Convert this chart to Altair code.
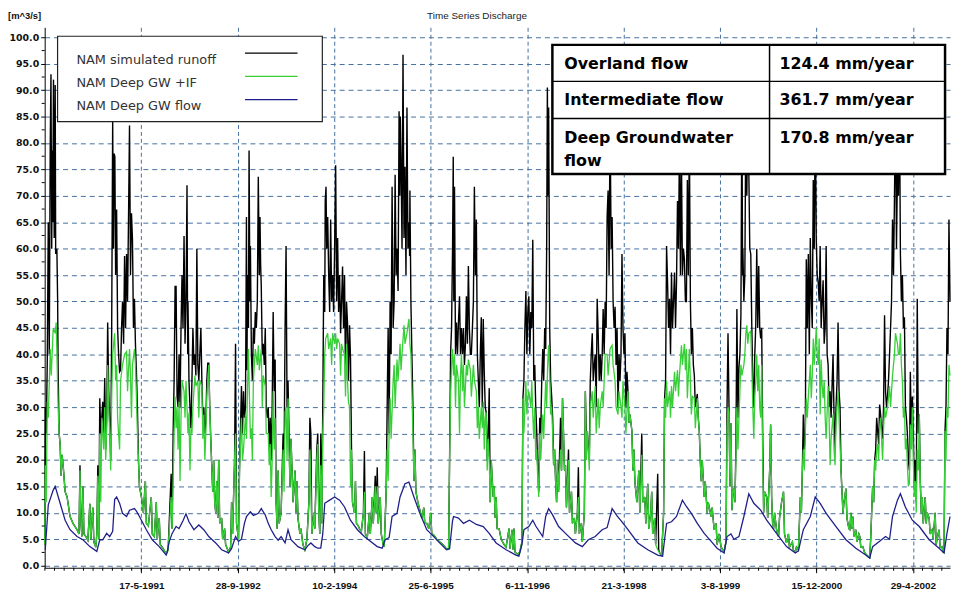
import altair as alt
import pandas as pd

# ---------------- text / categories ----------------
TITLE = "Time Series Discharge"
UNIT = "[m^3/s]"
SERIES_NAMES = ["NAM simulated runoff", "NAM Deep GW +IF", "NAM Deep GW flow"]
SERIES_COLORS = ["#000000", "#36cf36", "#1f1f8a"]

TICK_DATES = ["1991-05-17", "1992-09-28", "1994-02-10", "1995-06-25", "1996-11-06",
              "1998-03-21", "1999-08-03", "2000-12-15", "2002-04-29"]
TICK_LABELS = ["17-5-1991", "28-9-1992", "10-2-1994", "25-6-1995", "6-11-1996",
               "21-3-1998", "3-8-1999", "15-12-2000", "29-4-2002"]
Y_TICKS = [0, 5, 10, 15, 20, 25, 30, 35, 40, 45, 50, 55, 60, 65, 70, 75, 80, 85, 90, 95, 100]

TABLE_NAMES = ["Overland flow", "Intermediate flow", "Deep Groundwater\nflow"]
TABLE_VALUES = ["124.4 mm/year", "361.7 mm/year", "170.8 mm/year"]

# ---------------- series (decimal year, m^3/s) ----------------
RUNOFF = [
    (1990.001, 4), (1990.008, 30), (1990.022, 25), (1990.037, 39), (1990.051, 65), (1990.065, 40), (1990.079, 80), (1990.089, 93), (1990.100, 60), (1990.107, 78.6), (1990.114, 65), (1990.125, 92), (1990.135, 62), (1990.149, 91), (1990.156, 59), (1990.173, 60), (1990.184, 50), (1990.191, 36.7),
    (1990.205, 25), (1990.219, 23), (1990.233, 17), (1990.247, 21), (1990.262, 19), (1990.290, 14), (1990.318, 13), (1990.360, 9.3), (1990.402, 8), (1990.459, 6.8), (1990.487, 6), (1990.501, 19), (1990.515, 8), (1990.529, 5.5), (1990.543, 15), (1990.557, 6), (1990.585, 5.5), (1990.613, 4.8), (1990.641, 11.7), (1990.655, 5), (1990.683, 11), (1990.698, 4.5), (1990.726, 3.5), (1990.740, 6), (1990.754, 19), (1990.768, 5),
    (1990.782, 31.7), (1990.796, 25), (1990.810, 28), (1990.824, 31), (1990.838, 25), (1990.852, 35.5), (1990.866, 22), (1990.880, 28), (1990.894, 46), (1990.909, 33), (1990.923, 27), (1990.937, 20), (1990.951, 45), (1990.965, 84.3), (1990.976, 60), (1990.986, 78), (1990.996, 77.4), (1991.007, 55), (1991.021, 67.4), (1991.035, 45), (1991.049, 40), (1991.063, 36.7), (1991.077, 37), (1991.091, 45), (1991.105, 50), (1991.120, 42), (1991.134, 58.6), (1991.148, 45), (1991.162, 59), (1991.176, 50), (1991.190, 66), (1991.204, 83.3), (1991.218, 55), (1991.232, 66.7), (1991.246, 61.7), (1991.260, 45), (1991.274, 50.5), (1991.288, 42), (1991.302, 36.7), (1991.316, 30), (1991.331, 20),
    (1991.345, 15), (1991.373, 13), (1991.401, 10), (1991.429, 16), (1991.443, 8), (1991.471, 7.5), (1991.513, 13), (1991.527, 6), (1991.556, 5.5), (1991.584, 12), (1991.598, 5), (1991.626, 9), (1991.640, 4), (1991.682, 3.2), (1991.724, 2.2), (1991.752, 3), (1991.795, 17.4), (1991.809, 7),
    (1991.823, 25), (1991.837, 35), (1991.851, 53), (1991.861, 45), (1991.865, 53), (1991.879, 32), (1991.893, 30), (1991.907, 40), (1991.921, 30), (1991.935, 45), (1991.949, 55), (1991.963, 45), (1991.978, 62.4), (1991.992, 42), (1992.006, 50), (1992.020, 72), (1992.030, 40), (1992.034, 50), (1992.048, 35), (1992.062, 30), (1992.076, 26), (1992.090, 35), (1992.104, 45), (1992.118, 38), (1992.132, 40), (1992.146, 36), (1992.160, 60), (1992.174, 38), (1992.188, 35), (1992.202, 40), (1992.217, 45), (1992.231, 35), (1992.245, 28), (1992.259, 30), (1992.273, 25), (1992.287, 27), (1992.301, 35), (1992.315, 38.3), (1992.329, 38.3), (1992.343, 30), (1992.357, 24), (1992.371, 19),
    (1992.385, 14), (1992.399, 20), (1992.413, 12), (1992.428, 10), (1992.442, 16), (1992.456, 9), (1992.470, 20), (1992.484, 8), (1992.512, 9), (1992.526, 5), (1992.554, 7), (1992.568, 4), (1992.610, 2.6), (1992.639, 3.5), (1992.653, 12), (1992.667, 6), (1992.695, 20), (1992.709, 42), (1992.723, 8), (1992.751, 5), (1992.765, 18),
    (1992.793, 34), (1992.807, 25), (1992.822, 33), (1992.836, 28), (1992.850, 30), (1992.864, 66), (1992.871, 37), (1992.878, 55), (1992.892, 45), (1992.901, 78.6), (1992.913, 50), (1992.920, 60.5), (1992.934, 40), (1992.948, 35), (1992.962, 45), (1992.976, 42), (1992.990, 48), (1993.004, 45), (1993.018, 50), (1993.032, 73.6), (1993.046, 55), (1993.056, 66), (1993.065, 57), (1993.074, 53), (1993.088, 40), (1993.102, 42), (1993.117, 38), (1993.131, 45), (1993.145, 30), (1993.159, 28), (1993.173, 30), (1993.187, 22), (1993.201, 28), (1993.215, 20), (1993.229, 30), (1993.243, 48), (1993.257, 33), (1993.271, 39),
    (1993.285, 12), (1993.299, 7), (1993.314, 18), (1993.328, 8), (1993.356, 10), (1993.384, 25), (1993.398, 20), (1993.412, 45), (1993.426, 60.5), (1993.440, 30), (1993.454, 35), (1993.468, 25), (1993.482, 15), (1993.496, 24),
    (1993.511, 18), (1993.525, 12), (1993.553, 18), (1993.567, 10), (1993.581, 16), (1993.595, 9), (1993.623, 6), (1993.637, 7), (1993.665, 4), (1993.693, 3), (1993.722, 5), (1993.750, 12), (1993.764, 28), (1993.778, 25), (1993.792, 6), (1993.820, 10), (1993.834, 7), (1993.862, 22), (1993.876, 25), (1993.890, 10), (1993.905, 6), (1993.919, 25), (1993.933, 8),
    (1993.947, 30), (1993.961, 55), (1993.975, 48), (1993.982, 69), (1993.993, 71.7), (1994.003, 60), (1994.017, 66), (1994.031, 55), (1994.045, 48), (1994.059, 65.5), (1994.073, 50), (1994.087, 55), (1994.101, 48), (1994.115, 60), (1994.130, 75.8), (1994.144, 50), (1994.158, 62), (1994.172, 48), (1994.186, 55), (1994.200, 44), (1994.214, 50), (1994.228, 56.6), (1994.242, 45), (1994.256, 55), (1994.270, 35), (1994.284, 50), (1994.298, 46), (1994.312, 35), (1994.327, 45.5), (1994.341, 39), (1994.355, 22),
    (1994.369, 12), (1994.397, 10), (1994.411, 16), (1994.425, 8), (1994.453, 7.5), (1994.467, 7), (1994.495, 6.5), (1994.524, 10), (1994.538, 21.7), (1994.552, 6), (1994.579, 5.3), (1994.608, 10), (1994.622, 6), (1994.650, 13), (1994.664, 8), (1994.692, 17), (1994.706, 10), (1994.720, 18.6), (1994.735, 8), (1994.763, 13), (1994.777, 6), (1994.805, 4), (1994.819, 3.6),
    (1994.847, 14), (1994.861, 30), (1994.875, 45), (1994.889, 25), (1994.903, 50), (1994.917, 40), (1994.931, 71.7), (1994.946, 45), (1994.960, 50), (1994.974, 74), (1994.988, 55), (1995.001, 60), (1995.016, 52), (1995.030, 86), (1995.040, 70), (1995.048, 85), (1995.058, 77), (1995.072, 60), (1995.086, 96.7), (1995.100, 62), (1995.114, 75.5), (1995.128, 55), (1995.142, 86.7), (1995.156, 60), (1995.170, 65), (1995.180, 58.6), (1995.184, 71), (1995.198, 50), (1995.212, 40), (1995.227, 30),
    (1995.241, 16), (1995.255, 22), (1995.269, 14), (1995.297, 12), (1995.325, 10.5), (1995.353, 9), (1995.381, 11), (1995.395, 8), (1995.423, 8), (1995.452, 7), (1995.480, 10), (1995.494, 6), (1995.522, 5.8), (1995.564, 5), (1995.606, 4.5), (1995.663, 3.8), (1995.705, 3.1), (1995.733, 3.2),
    (1995.747, 20), (1995.761, 40), (1995.775, 45), (1995.789, 60), (1995.799, 77.4), (1995.807, 50), (1995.817, 71.7), (1995.831, 40), (1995.845, 46), (1995.859, 40), (1995.873, 46), (1995.888, 51), (1995.902, 40), (1995.916, 45), (1995.930, 40), (1995.944, 45), (1995.958, 38), (1995.972, 42), (1995.986, 51), (1996.000, 42), (1996.014, 56.7), (1996.028, 45), (1996.042, 40), (1996.056, 40), (1996.071, 45), (1996.085, 50), (1996.099, 71.7), (1996.113, 55), (1996.127, 65.5), (1996.141, 40), (1996.155, 35), (1996.169, 30), (1996.183, 40), (1996.197, 47), (1996.211, 30), (1996.225, 46.7), (1996.239, 36.7), (1996.253, 30), (1996.267, 29), (1996.281, 20), (1996.296, 25), (1996.310, 33.6),
    (1996.324, 12), (1996.338, 20), (1996.366, 13), (1996.380, 15), (1996.394, 9), (1996.408, 13), (1996.422, 7), (1996.450, 7), (1996.479, 5), (1996.521, 4), (1996.549, 3.5), (1996.591, 7), (1996.605, 3.2), (1996.633, 6.8), (1996.647, 3), (1996.661, 7), (1996.675, 2.6), (1996.717, 2.1), (1996.745, 2.6), (1996.774, 4.5),
    (1996.788, 31.7), (1996.802, 35), (1996.816, 45), (1996.830, 52), (1996.844, 40), (1996.858, 48), (1996.872, 51), (1996.886, 40), (1996.900, 48), (1996.914, 45), (1996.928, 61.7), (1996.942, 35), (1996.956, 38), (1996.970, 30), (1996.985, 25), (1996.999, 18), (1997.013, 14), (1997.027, 28), (1997.041, 25), (1997.055, 35), (1997.069, 41), (1997.083, 35), (1997.097, 45), (1997.111, 41), (1997.125, 60), (1997.135, 90.5), (1997.143, 70), (1997.153, 86.7), (1997.163, 60), (1997.168, 45), (1997.182, 35), (1997.196, 32), (1997.210, 28),
    (1997.224, 19), (1997.238, 22), (1997.252, 16), (1997.266, 12), (1997.280, 20), (1997.294, 14), (1997.322, 28), (1997.336, 18), (1997.350, 31.7), (1997.364, 25), (1997.378, 18), (1997.392, 19), (1997.406, 11), (1997.435, 22), (1997.449, 10), (1997.477, 14), (1997.491, 8), (1997.519, 9), (1997.533, 6), (1997.561, 10), (1997.575, 18.6), (1997.589, 6), (1997.617, 8), (1997.631, 4.5), (1997.660, 10),
    (1997.674, 33), (1997.688, 25), (1997.702, 25.5), (1997.716, 22), (1997.730, 20), (1997.744, 35), (1997.758, 40), (1997.772, 44), (1997.786, 35), (1997.800, 38), (1997.814, 40), (1997.828, 30), (1997.842, 50.5), (1997.856, 44), (1997.871, 35), (1997.885, 40), (1997.899, 35), (1997.913, 40), (1997.927, 48.6), (1997.941, 40), (1997.955, 50), (1997.969, 45), (1997.983, 66), (1997.997, 71), (1998.011, 55), (1998.025, 85), (1998.040, 60), (1998.054, 66), (1998.068, 50), (1998.082, 45), (1998.096, 49), (1998.110, 38), (1998.124, 45), (1998.138, 30), (1998.152, 40), (1998.166, 35), (1998.180, 40), (1998.194, 59), (1998.208, 45), (1998.222, 40), (1998.236, 44), (1998.250, 30), (1998.265, 36.7), (1998.279, 33), (1998.293, 27), (1998.307, 28.6), (1998.335, 25.5),
    (1998.349, 18), (1998.363, 22), (1998.377, 16), (1998.405, 12), (1998.433, 18), (1998.447, 10), (1998.475, 25), (1998.489, 12), (1998.518, 13), (1998.532, 8), (1998.560, 15.5), (1998.574, 7), (1998.602, 10), (1998.616, 14), (1998.630, 6), (1998.658, 9), (1998.672, 4), (1998.701, 17.4), (1998.715, 3), (1998.729, 2.4), (1998.757, 2), (1998.785, 10),
    (1998.799, 31.7), (1998.813, 35), (1998.827, 60.5), (1998.841, 53.6), (1998.855, 45), (1998.869, 50.5), (1998.883, 40), (1998.897, 55.5), (1998.911, 45), (1998.925, 50), (1998.940, 55.5), (1998.954, 45), (1998.968, 53.6), (1998.982, 69), (1998.996, 60), (1999.010, 80), (1999.024, 55), (1999.038, 78), (1999.052, 55), (1999.066, 60), (1999.080, 58), (1999.094, 50), (1999.108, 50), (1999.122, 73), (1999.136, 55), (1999.150, 82), (1999.165, 50), (1999.179, 40), (1999.193, 45), (1999.207, 38), (1999.221, 36), (1999.235, 30), (1999.263, 32.5), (1999.277, 28),
    (1999.291, 25.5), (1999.305, 20), (1999.319, 16), (1999.333, 20), (1999.361, 13), (1999.376, 16), (1999.404, 9.9), (1999.418, 12), (1999.460, 9.3), (1999.474, 11), (1999.502, 6.8), (1999.530, 8), (1999.544, 4), (1999.573, 6), (1999.601, 3.5), (1999.643, 2.6), (1999.671, 4.6),
    (1999.685, 30), (1999.699, 44), (1999.713, 30), (1999.727, 15), (1999.741, 27), (1999.755, 10.5), (1999.769, 14), (1999.783, 14.6), (1999.797, 12), (1999.811, 22), (1999.825, 48.6), (1999.840, 28), (1999.854, 37.5), (1999.868, 40), (1999.882, 47.4), (1999.896, 88), (1999.906, 55), (1999.910, 60), (1999.924, 50), (1999.938, 55), (1999.952, 85), (1999.966, 70), (1999.980, 88), (1999.994, 75), (2000.008, 60), (2000.022, 59), (2000.037, 45), (2000.051, 35), (2000.065, 30), (2000.079, 40), (2000.093, 45.5), (2000.107, 60), (2000.121, 45), (2000.135, 56.7), (2000.149, 45), (2000.163, 43), (2000.177, 45), (2000.191, 25),
    (2000.205, 10), (2000.219, 14), (2000.248, 13), (2000.262, 9), (2000.290, 18), (2000.304, 26.7), (2000.318, 13), (2000.332, 8), (2000.346, 7), (2000.360, 10), (2000.388, 6.8), (2000.416, 5.5), (2000.430, 9), (2000.459, 12), (2000.487, 14), (2000.501, 6), (2000.529, 4.3), (2000.557, 6), (2000.571, 3.5), (2000.613, 4.5), (2000.627, 2.9), (2000.655, 2.6), (2000.670, 3.5), (2000.698, 3), (2000.712, 8), (2000.726, 13), (2000.740, 10), (2000.754, 18),
    (2000.768, 28.6), (2000.782, 22), (2000.796, 25), (2000.810, 58), (2000.824, 45), (2000.839, 59), (2000.853, 40), (2000.867, 62), (2000.881, 50.5), (2000.895, 45), (2000.909, 73), (2000.923, 60), (2000.937, 85), (2000.947, 70), (2000.951, 62), (2000.965, 55), (2000.979, 53.6), (2000.993, 50), (2001.007, 60.5), (2001.021, 45), (2001.035, 50), (2001.049, 54), (2001.064, 42), (2001.078, 45), (2001.092, 60.5), (2001.106, 40), (2001.120, 38), (2001.134, 30), (2001.148, 33), (2001.162, 28), (2001.190, 40), (2001.204, 28), (2001.218, 22), (2001.232, 30), (2001.247, 35), (2001.261, 46), (2001.275, 33), (2001.289, 30), (2001.303, 18),
    (2001.317, 14), (2001.331, 9.9), (2001.345, 12), (2001.373, 14.6), (2001.387, 9), (2001.415, 7), (2001.429, 6.8), (2001.443, 10), (2001.457, 7), (2001.471, 9.3), (2001.486, 5.5), (2001.514, 6.8), (2001.528, 4.5), (2001.556, 6), (2001.570, 5.5), (2001.584, 3.5), (2001.612, 3.6), (2001.640, 2.4), (2001.682, 1.8), (2001.710, 1.5), (2001.724, 5), (2001.738, 10), (2001.752, 15), (2001.767, 12),
    (2001.781, 20), (2001.795, 22), (2001.809, 28), (2001.823, 25.5), (2001.837, 23), (2001.851, 30.5), (2001.865, 28.6), (2001.879, 26), (2001.893, 24), (2001.907, 30), (2001.921, 47.4), (2001.935, 33), (2001.949, 30), (2001.963, 32), (2001.977, 35), (2001.992, 40), (2002.006, 45), (2002.020, 50), (2002.034, 65.5), (2002.048, 55), (2002.062, 70), (2002.076, 88), (2002.090, 60), (2002.104, 75), (2002.118, 70), (2002.132, 90), (2002.146, 59), (2002.160, 50), (2002.174, 55), (2002.189, 45), (2002.203, 47), (2002.217, 30), (2002.231, 28), (2002.245, 25), (2002.259, 20), (2002.273, 18), (2002.287, 36.7), (2002.301, 25), (2002.315, 32), (2002.329, 25), (2002.343, 15), (2002.357, 20), (2002.371, 12), (2002.385, 50.5), (2002.400, 25), (2002.414, 28.6),
    (2002.428, 16), (2002.442, 10), (2002.456, 13), (2002.470, 8), (2002.498, 13), (2002.512, 8), (2002.526, 10), (2002.554, 9), (2002.568, 6), (2002.596, 6.8), (2002.610, 5), (2002.639, 10), (2002.653, 4), (2002.681, 6), (2002.695, 6.8), (2002.709, 3.5), (2002.737, 3.6), (2002.751, 2.6), (2002.765, 2.5),
    (2002.779, 25.5), (2002.793, 30), (2002.807, 45), (2002.821, 40), (2002.835, 65.5), (2002.850, 50),
]

DEEP_GW_IF = [
    (1990.001, 4), (1990.008, 19), (1990.022, 12), (1990.037, 31), (1990.051, 28), (1990.079, 41), (1990.093, 36), (1990.121, 45), (1990.149, 44), (1990.163, 46), (1990.177, 38), (1990.191, 30), (1990.205, 25), (1990.219, 23), (1990.233, 17), (1990.247, 21), (1990.262, 19), (1990.290, 14), (1990.318, 13), (1990.360, 9.3), (1990.402, 8), (1990.459, 6.8), (1990.487, 6), (1990.501, 18), (1990.515, 8), (1990.529, 5.5), (1990.543, 15), (1990.557, 6), (1990.585, 5.5), (1990.613, 4.8), (1990.641, 11.7), (1990.655, 5), (1990.683, 11), (1990.698, 4.5), (1990.726, 3.5), (1990.740, 6), (1990.754, 17), (1990.768, 5),
    (1990.782, 25), (1990.796, 12), (1990.810, 28), (1990.838, 22), (1990.852, 30), (1990.866, 20), (1990.880, 26), (1990.894, 38), (1990.909, 30), (1990.923, 25), (1990.937, 18), (1990.951, 32), (1990.965, 40), (1990.993, 44), (1991.007, 35), (1991.021, 38), (1991.035, 28), (1991.063, 22), (1991.077, 35), (1991.105, 38), (1991.134, 40), (1991.162, 40.5), (1991.176, 33), (1991.204, 41), (1991.218, 36), (1991.232, 28), (1991.246, 38), (1991.274, 41), (1991.288, 38), (1991.302, 32), (1991.316, 25), (1991.331, 20),
    (1991.345, 15), (1991.373, 13), (1991.401, 10), (1991.429, 16), (1991.443, 8), (1991.471, 7.5), (1991.513, 13), (1991.527, 6), (1991.556, 5.5), (1991.584, 12), (1991.598, 5), (1991.626, 9), (1991.640, 4), (1991.682, 3.2), (1991.724, 2.2), (1991.752, 3), (1991.795, 13), (1991.809, 7),
    (1991.837, 25), (1991.851, 32), (1991.865, 26), (1991.879, 30), (1991.893, 22), (1991.907, 31), (1991.921, 16), (1991.935, 28), (1991.949, 35), (1991.978, 33), (1991.992, 28), (1992.006, 35), (1992.020, 30), (1992.034, 25), (1992.048, 29), (1992.062, 18), (1992.076, 26), (1992.090, 25), (1992.104, 30), (1992.132, 36), (1992.146, 34), (1992.174, 35), (1992.188, 28), (1992.202, 35), (1992.231, 34), (1992.245, 24), (1992.259, 28.6), (1992.273, 20), (1992.287, 25), (1992.301, 32), (1992.329, 38), (1992.343, 30), (1992.357, 24), (1992.371, 19),
    (1992.385, 14), (1992.399, 20), (1992.413, 12), (1992.428, 10), (1992.442, 16), (1992.456, 9), (1992.470, 20), (1992.484, 8), (1992.512, 9), (1992.526, 5), (1992.554, 7), (1992.568, 4), (1992.610, 2.6), (1992.639, 3.5), (1992.653, 12), (1992.667, 6), (1992.695, 20), (1992.709, 25), (1992.723, 8), (1992.751, 5), (1992.765, 18),
    (1992.793, 28), (1992.807, 20), (1992.822, 22), (1992.850, 28.6), (1992.864, 24), (1992.892, 41), (1992.906, 32), (1992.920, 24), (1992.934, 26), (1992.948, 20), (1992.962, 35), (1992.990, 41), (1993.018, 38), (1993.032, 41.7), (1993.046, 37), (1993.074, 41), (1993.088, 30), (1993.102, 36), (1993.131, 34), (1993.145, 25), (1993.173, 25), (1993.187, 19), (1993.201, 23), (1993.215, 13), (1993.229, 20), (1993.243, 33), (1993.257, 22), (1993.271, 28),
    (1993.285, 12), (1993.299, 7), (1993.314, 18), (1993.328, 8), (1993.356, 10), (1993.384, 22), (1993.398, 14), (1993.412, 29), (1993.426, 30), (1993.440, 20), (1993.454, 31.7), (1993.468, 22), (1993.482, 15), (1993.496, 24),
    (1993.511, 18), (1993.525, 12), (1993.553, 18), (1993.567, 10), (1993.581, 16), (1993.595, 9), (1993.623, 6), (1993.637, 7), (1993.665, 4), (1993.693, 3), (1993.722, 5), (1993.750, 12), (1993.764, 22), (1993.778, 15), (1993.792, 6), (1993.820, 10), (1993.834, 7), (1993.862, 20), (1993.876, 23), (1993.890, 10), (1993.905, 6), (1993.919, 19), (1993.933, 8),
    (1993.947, 25), (1993.961, 30), (1993.975, 40), (1993.989, 43), (1994.017, 44), (1994.031, 41), (1994.059, 43), (1994.073, 38), (1994.087, 44), (1994.115, 42), (1994.130, 44), (1994.144, 41), (1994.158, 43), (1994.186, 42), (1994.200, 36), (1994.214, 42), (1994.228, 41), (1994.256, 40), (1994.270, 32), (1994.284, 42), (1994.298, 35), (1994.312, 31), (1994.327, 30), (1994.341, 15), (1994.355, 22),
    (1994.369, 12), (1994.397, 10), (1994.411, 16), (1994.425, 8), (1994.453, 7.5), (1994.467, 7), (1994.495, 6.5), (1994.524, 10), (1994.538, 14), (1994.552, 6), (1994.579, 5.3), (1994.608, 10), (1994.622, 6), (1994.650, 13), (1994.664, 8), (1994.692, 15), (1994.706, 10), (1994.720, 15), (1994.735, 8), (1994.763, 13), (1994.777, 6), (1994.805, 4), (1994.819, 3.6),
    (1994.847, 14), (1994.861, 22), (1994.875, 16), (1994.889, 25), (1994.903, 31.7), (1994.917, 24), (1994.946, 35), (1994.960, 38), (1994.974, 30), (1995.001, 39), (1995.016, 35), (1995.044, 42), (1995.058, 37), (1995.072, 40), (1995.100, 45.5), (1995.114, 42), (1995.142, 44), (1995.170, 46.7), (1995.184, 42), (1995.198, 40), (1995.212, 33), (1995.227, 25),
    (1995.241, 16), (1995.255, 22), (1995.269, 14), (1995.297, 12), (1995.325, 10.5), (1995.353, 9), (1995.381, 11), (1995.395, 8), (1995.423, 8), (1995.452, 7), (1995.480, 10), (1995.494, 6), (1995.522, 5.8), (1995.564, 5), (1995.606, 4.5), (1995.663, 3.8), (1995.705, 3.1), (1995.733, 3.2),
    (1995.747, 20), (1995.761, 32), (1995.775, 38), (1995.789, 41), (1995.803, 36), (1995.817, 40), (1995.831, 30), (1995.845, 38), (1995.873, 35), (1995.888, 25), (1995.902, 36), (1995.916, 40), (1995.930, 33), (1995.944, 38), (1995.958, 30), (1995.986, 38), (1996.000, 36), (1996.014, 39), (1996.042, 37), (1996.056, 32), (1996.085, 38), (1996.099, 35), (1996.127, 33), (1996.141, 26), (1996.155, 30), (1996.169, 24), (1996.197, 30), (1996.211, 26), (1996.225, 31), (1996.239, 22), (1996.253, 28), (1996.267, 29), (1996.281, 18), (1996.296, 24), (1996.310, 20),
    (1996.324, 12), (1996.338, 20), (1996.366, 13), (1996.380, 15), (1996.394, 9), (1996.408, 13), (1996.422, 7), (1996.450, 7), (1996.479, 5), (1996.521, 4), (1996.549, 3.5), (1996.591, 7), (1996.605, 3.2), (1996.633, 6.8), (1996.647, 3), (1996.661, 7), (1996.675, 2.6), (1996.717, 2.1), (1996.745, 2.6), (1996.774, 4.5),
    (1996.788, 31.7), (1996.802, 25), (1996.816, 30), (1996.830, 35), (1996.844, 28.6), (1996.858, 32), (1996.872, 33), (1996.900, 30), (1996.914, 35), (1996.928, 28.6), (1996.942, 24), (1996.956, 30), (1996.970, 20), (1996.985, 22), (1996.999, 16), (1997.013, 13), (1997.027, 25), (1997.041, 20), (1997.069, 28.6), (1997.083, 24), (1997.111, 35), (1997.125, 30), (1997.139, 38), (1997.153, 41.7), (1997.168, 36), (1997.182, 28.6), (1997.196, 30), (1997.210, 25),
    (1997.224, 19), (1997.238, 22), (1997.252, 16), (1997.266, 12), (1997.280, 20), (1997.294, 14), (1997.322, 22), (1997.336, 18), (1997.350, 31.7), (1997.364, 25), (1997.378, 18), (1997.392, 19), (1997.406, 11), (1997.435, 20), (1997.449, 10), (1997.477, 14), (1997.491, 8), (1997.519, 9), (1997.533, 6), (1997.561, 10), (1997.575, 13), (1997.589, 6), (1997.617, 8), (1997.631, 4.5), (1997.660, 10),
    (1997.674, 33), (1997.688, 20), (1997.702, 25.5), (1997.716, 22), (1997.730, 18), (1997.744, 30), (1997.772, 33), (1997.786, 28), (1997.814, 34), (1997.828, 25), (1997.856, 31.7), (1997.871, 26), (1997.885, 30), (1997.913, 33), (1997.927, 30), (1997.955, 40), (1997.983, 40), (1997.997, 36), (1998.025, 41), (1998.054, 41.7), (1998.068, 38), (1998.096, 35), (1998.110, 30), (1998.138, 28.6), (1998.152, 33), (1998.180, 30), (1998.194, 28), (1998.208, 35), (1998.236, 30), (1998.250, 25), (1998.279, 33), (1998.293, 27), (1998.307, 28.6), (1998.335, 25.5),
    (1998.349, 18), (1998.363, 22), (1998.377, 16), (1998.405, 12), (1998.433, 18), (1998.447, 10), (1998.475, 21), (1998.489, 12), (1998.518, 13), (1998.532, 8), (1998.560, 15.5), (1998.574, 7), (1998.602, 10), (1998.616, 14), (1998.630, 6), (1998.658, 9), (1998.672, 4), (1998.701, 3), (1998.729, 2.4), (1998.757, 2), (1998.785, 10),
    (1998.799, 31.7), (1998.813, 28), (1998.827, 35), (1998.841, 30), (1998.869, 33), (1998.883, 28), (1998.897, 34), (1998.911, 30), (1998.940, 36.7), (1998.954, 33), (1998.982, 37), (1998.996, 32), (1999.010, 36), (1999.038, 41.7), (1999.052, 38), (1999.080, 42), (1999.094, 37), (1999.108, 41), (1999.122, 31.7), (1999.136, 36), (1999.150, 41), (1999.165, 35), (1999.179, 28.6), (1999.193, 32), (1999.221, 31.7), (1999.235, 26), (1999.263, 31.7), (1999.277, 28),
    (1999.291, 25.5), (1999.305, 20), (1999.319, 16), (1999.333, 20), (1999.361, 13), (1999.376, 16), (1999.404, 9.9), (1999.418, 12), (1999.460, 9.3), (1999.474, 11), (1999.502, 6.8), (1999.530, 8), (1999.544, 4), (1999.573, 6), (1999.601, 3.5), (1999.643, 2.6), (1999.671, 4.6),
    (1999.685, 25.5), (1999.699, 30), (1999.713, 29), (1999.727, 15), (1999.741, 27), (1999.755, 10.5), (1999.769, 14), (1999.783, 14.6), (1999.797, 12), (1999.811, 20), (1999.825, 30), (1999.840, 22), (1999.854, 28), (1999.868, 33), (1999.882, 38), (1999.896, 36), (1999.924, 38), (1999.938, 40), (1999.952, 44), (1999.966, 45.5), (1999.980, 42), (1999.994, 44), (2000.022, 44.4), (2000.037, 38), (2000.051, 30), (2000.065, 24), (2000.079, 32), (2000.093, 35), (2000.107, 40), (2000.121, 33), (2000.135, 38), (2000.149, 30), (2000.163, 28), (2000.177, 38), (2000.191, 20),
    (2000.205, 10), (2000.219, 14), (2000.248, 13), (2000.262, 9), (2000.290, 18), (2000.304, 26.7), (2000.318, 13), (2000.332, 8), (2000.346, 7), (2000.360, 10), (2000.388, 6.8), (2000.416, 5.5), (2000.430, 9), (2000.459, 12), (2000.487, 14), (2000.501, 6), (2000.529, 4.3), (2000.557, 6), (2000.571, 3.5), (2000.613, 4.5), (2000.627, 2.9), (2000.655, 2.6), (2000.670, 3.5), (2000.698, 3), (2000.712, 8), (2000.726, 13), (2000.740, 10), (2000.754, 18),
    (2000.768, 22), (2000.782, 18), (2000.796, 25), (2000.810, 31.7), (2000.824, 28), (2000.839, 32), (2000.867, 38), (2000.881, 31.7), (2000.895, 36), (2000.909, 43), (2000.923, 38), (2000.951, 45), (2000.965, 40), (2000.979, 38), (2000.993, 43), (2001.007, 28.6), (2001.021, 39), (2001.035, 34), (2001.049, 31.7), (2001.064, 35), (2001.078, 28), (2001.092, 24), (2001.106, 29), (2001.120, 34), (2001.134, 28), (2001.148, 19), (2001.162, 24), (2001.190, 28.6), (2001.204, 22), (2001.218, 19), (2001.232, 27), (2001.247, 30), (2001.261, 33), (2001.275, 28), (2001.289, 23), (2001.303, 18),
    (2001.317, 14), (2001.331, 9.9), (2001.345, 12), (2001.373, 14.6), (2001.387, 9), (2001.415, 7), (2001.429, 6.8), (2001.443, 10), (2001.457, 7), (2001.471, 9.3), (2001.486, 5.5), (2001.514, 6.8), (2001.528, 4.5), (2001.556, 6), (2001.570, 5.5), (2001.584, 3.5), (2001.612, 3.6), (2001.640, 2.4), (2001.682, 1.8), (2001.710, 1.5), (2001.724, 5), (2001.738, 10), (2001.752, 15), (2001.767, 12),
    (2001.781, 20), (2001.795, 18), (2001.809, 22), (2001.823, 23), (2001.837, 20), (2001.851, 26), (2001.865, 28), (2001.879, 24), (2001.893, 20), (2001.907, 26), (2001.921, 30), (2001.935, 28), (2001.963, 30), (2001.977, 32), (2001.992, 34), (2002.006, 30), (2002.034, 36), (2002.048, 38), (2002.062, 40), (2002.076, 44), (2002.104, 42), (2002.118, 40), (2002.132, 40), (2002.146, 44), (2002.160, 38), (2002.174, 35), (2002.189, 28), (2002.203, 30), (2002.217, 22), (2002.231, 24), (2002.245, 19), (2002.259, 15), (2002.273, 15.5), (2002.287, 26.7), (2002.301, 22), (2002.315, 30), (2002.329, 20), (2002.343, 13), (2002.357, 16), (2002.371, 10), (2002.385, 22), (2002.400, 18), (2002.414, 28.6),
    (2002.428, 16), (2002.442, 10), (2002.456, 13), (2002.470, 8), (2002.498, 13), (2002.512, 8), (2002.526, 10), (2002.554, 9), (2002.568, 6), (2002.596, 6.8), (2002.610, 5), (2002.639, 10), (2002.653, 4), (2002.681, 6), (2002.695, 6.8), (2002.709, 3.5), (2002.737, 3.6), (2002.751, 2.6), (2002.765, 2.5),
    (2002.779, 25.5), (2002.793, 20), (2002.807, 30), (2002.821, 28), (2002.835, 38), (2002.850, 36),
]

DEEP_GW = [
    (1990.008, 3.0), (1990.051, 11.5), (1990.121, 14.3), (1990.149, 15.0), (1990.219, 11.8), (1990.290, 8.6), (1990.360, 6.8), (1990.459, 5.5), (1990.543, 4.9), (1990.641, 3.6), (1990.740, 2.7), (1990.782, 4.9), (1990.824, 4.9), (1990.852, 5.5), (1990.880, 6.1), (1990.923, 5.5), (1990.965, 6.5), (1990.993, 12.5), (1991.021, 13.0), (1991.063, 11.8), (1991.105, 9.9), (1991.162, 9.3), (1991.204, 10.5), (1991.274, 10.8), (1991.302, 10.3), (1991.345, 9.3), (1991.443, 6.8), (1991.527, 4.9), (1991.626, 3.6), (1991.724, 2.0), (1991.738, 2.5), (1991.767, 4.5), (1991.809, 6.1), (1991.865, 7.4), (1991.907, 7.0), (1991.963, 8.5), (1992.005, 9.8), (1992.048, 8.3), (1992.118, 6.8), (1992.188, 7.7), (1992.258, 6.8), (1992.329, 5.5), (1992.427, 4.3), (1992.512, 3.0), (1992.610, 2.4), (1992.652, 3.2), (1992.709, 5.5), (1992.751, 4.6), (1992.793, 5.0), (1992.835, 8.0), (1992.864, 9.3), (1992.920, 10.2), (1992.962, 9.5), (1993.032, 9.9), (1993.074, 10.8), (1993.131, 9.6), (1993.173, 8.0), (1993.215, 6.8), (1993.271, 5.5), (1993.314, 4.8), (1993.356, 5.5), (1993.412, 4.3), (1993.454, 6.8), (1993.496, 4.9), (1993.595, 3.6), (1993.693, 3.0), (1993.736, 3.8), (1993.778, 4.3), (1993.834, 3.6), (1993.876, 3.3), (1993.918, 3.3), (1993.947, 6.0), (1993.975, 11.8), (1994.045, 12.4), (1994.115, 13.0), (1994.186, 12.4), (1994.256, 11.1), (1994.340, 8.6), (1994.439, 6.8), (1994.537, 5.5), (1994.622, 4.6), (1994.720, 3.6), (1994.791, 3.3), (1994.833, 4.9), (1994.889, 5.3), (1994.931, 9.3), (1995.001, 9.9), (1995.044, 13.0), (1995.114, 15.5), (1995.170, 15.8), (1995.241, 13.0), (1995.325, 9.9), (1995.423, 6.8), (1995.522, 5.5), (1995.606, 4.3), (1995.705, 3.0), (1995.747, 3.2), (1995.789, 8.5), (1995.803, 9.3), (1995.873, 9.0), (1995.944, 8.0), (1996.028, 8.6), (1996.127, 7.8), (1996.225, 7.4), (1996.309, 6.1), (1996.408, 4.3), (1996.549, 3.0), (1996.689, 2.0), (1996.731, 1.8), (1996.774, 4.0), (1996.802, 6.8), (1996.872, 7.4), (1996.928, 8.6), (1996.970, 7.5), (1997.069, 5.5), (1997.111, 9.3), (1997.153, 10.8), (1997.209, 9.6), (1997.294, 7.4), (1997.392, 6.1), (1997.533, 4.3), (1997.631, 3.6), (1997.716, 4.9), (1997.814, 5.5), (1997.913, 6.8), (1997.983, 7.2), (1998.054, 10.8), (1998.124, 9.4), (1998.194, 8.3), (1998.279, 6.8), (1998.419, 4.3), (1998.560, 3.0), (1998.701, 2.0), (1998.771, 1.8), (1998.799, 5.0), (1998.827, 8.0), (1998.897, 8.3), (1998.968, 9.3), (1999.052, 12.4), (1999.108, 11.2), (1999.179, 9.9), (1999.263, 8.0), (1999.361, 6.1), (1999.460, 4.6), (1999.544, 3.3), (1999.643, 2.4), (1999.685, 5.5), (1999.741, 6.0), (1999.783, 5.0), (1999.854, 5.5), (1999.924, 9.3), (1999.994, 13.6), (2000.065, 11.8), (2000.163, 10.5), (2000.248, 8.6), (2000.388, 6.1), (2000.529, 3.6), (2000.655, 2.4), (2000.698, 2.8), (2000.768, 6.8), (2000.867, 9.3), (2000.937, 13.0), (2001.007, 11.8), (2001.092, 9.9), (2001.232, 7.4), (2001.373, 4.9), (2001.514, 3.3), (2001.654, 2.0), (2001.710, 1.4), (2001.752, 3.6), (2001.851, 4.6), (2001.935, 5.5), (2001.992, 5.0), (2002.034, 9.3), (2002.104, 12.4), (2002.146, 13.6), (2002.216, 11.1), (2002.315, 8.6), (2002.414, 7.4), (2002.554, 4.9), (2002.695, 3.3), (2002.765, 2.4), (2002.807, 6.1), (2002.850, 9.3),
]

# ---------------- helpers ----------------
W, H = 913, 545
X_DOMAIN = [1990.0, 2002.85]
Y_DOMAIN = [-0.4, 101.9]
GRID = "#456f9f"
BASE = pd.Timestamp("1990-01-01")


def dec_year(ts):
    return 1990 + (pd.Timestamp(ts) - BASE).days / 365.25


tick_vals = [round(dec_year(d), 4) for d in TICK_DATES]
label_expr = f"'{TICK_LABELS[-1]}'"
for k in range(len(tick_vals) - 2, -1, -1):
    mid = (tick_vals[k] + tick_vals[k + 1]) / 2
    label_expr = f"datum.value < {mid:.4f} ? '{TICK_LABELS[k]}' : ({label_expr})"

first_day = (pd.Timestamp(TICK_DATES[0]) - BASE).days % 50
minor_x = [1990 + d / 365.25 for d in range(first_day, 4700, 50) if 1990 + d / 365.25 <= X_DOMAIN[1]]
minor_y = [v + 2.5 for v in Y_TICKS[:-1]]

x_enc = alt.X(
    "t:Q",
    scale=alt.Scale(domain=X_DOMAIN, nice=False, zero=False),
    axis=alt.Axis(values=tick_vals, labelExpr=label_expr, title=None, grid=True,
                  gridDash=[4, 3], gridColor=GRID, gridWidth=1, tickSize=5,
                  labelPadding=8, labelFont="Liberation Sans", labelFontWeight="bold",
                  labelFontSize=10, labelColor="#111111", labelOverlap=False,
                  domainColor="black", tickColor="black"),
)
y_enc = alt.Y(
    "v:Q",
    scale=alt.Scale(domain=Y_DOMAIN, nice=False, zero=False),
    axis=alt.Axis(values=Y_TICKS, format=".1f", title=None, grid=True,
                  gridDash=[5, 4], gridColor=GRID, gridWidth=1, tickSize=4,
                  labelPadding=2, labelFont="DejaVu Sans", labelFontWeight="bold",
                  labelFontSize=9.5, labelColor="#111111",
                  domainColor="black", tickColor="black"),
)


def series_df(pairs):
    df = pd.DataFrame(pairs, columns=["t", "v"])
    df["i"] = range(len(df))
    return df


layers = []
for pairs, color, sw in [(RUNOFF, SERIES_COLORS[0], 1.4),
                         (DEEP_GW_IF, SERIES_COLORS[1], 1.3),
                         (DEEP_GW, SERIES_COLORS[2], 1.3)]:
    layers.append(
        alt.Chart(series_df(pairs)).mark_line(color=color, strokeWidth=sw).encode(
            x=x_enc, y=y_enc, order="i:Q")
    )

# minor ticks
layers.append(
    alt.Chart(pd.DataFrame({"t": minor_x})).mark_rule(color="black", strokeWidth=1).encode(
        x=x_enc, y=alt.value(H), y2=alt.value(H + 3))
)
layers.append(
    alt.Chart(pd.DataFrame({"v": minor_y})).mark_rule(color="black", strokeWidth=1).encode(
        y=y_enc, x=alt.value(0), x2=alt.value(-3))
)

one = pd.DataFrame({"k": [0]})

# legend box
layers.append(alt.Chart(one).mark_rect(fill="white", stroke="#222222", strokeWidth=1.2).encode(
    x=alt.value(13), x2=alt.value(280), y=alt.value(9), y2=alt.value(95)))
for k, (name, color) in enumerate(zip(SERIES_NAMES, SERIES_COLORS)):
    layers.append(alt.Chart(one).mark_text(
        text=name, align="left", baseline="middle", font="DejaVu Sans", fontSize=13,
        color="#333333").encode(x=alt.value(32), y=alt.value(32.5 + 23.5 * k)))
    layers.append(alt.Chart(one).mark_rule(color=color, strokeWidth=1.3).encode(
        x=alt.value(202), x2=alt.value(255), y=alt.value(26 + 23.5 * k)))

# summary table
TX0, TX1, TY0, TY1, TCOL = 512, 908, 17.7, 148, 731
layers.append(alt.Chart(one).mark_rect(fill="white", stroke="black", strokeWidth=2.5).encode(
    x=alt.value(TX0), x2=alt.value(TX1), y=alt.value(TY0), y2=alt.value(TY1)))
layers.append(alt.Chart(one).mark_rule(color="black", strokeWidth=1.5).encode(
    x=alt.value(TCOL), y=alt.value(TY0), y2=alt.value(TY1)))
for ry in [54.5, 92]:
    layers.append(alt.Chart(one).mark_rule(color="black", strokeWidth=1.5).encode(
        x=alt.value(TX0), x2=alt.value(TX1), y=alt.value(ry)))
row_base = [41.6, 78.5, 117]
for k, (name, val) in enumerate(zip(TABLE_NAMES, TABLE_VALUES)):
    for j, part in enumerate(name.split("\n")):
        layers.append(alt.Chart(one).mark_text(
            text=part, align="left", baseline="alphabetic", font="DejaVu Sans",
            fontWeight="bold", fontSize=16, color="black").encode(
            x=alt.value(524), y=alt.value(row_base[k] + 23 * j)))
    layers.append(alt.Chart(one).mark_text(
        text=val, align="left", baseline="alphabetic", font="DejaVu Sans",
        fontWeight="bold", fontSize=16, color="black").encode(
        x=alt.value(741), y=alt.value(row_base[k])))

# title and unit
layers.append(alt.Chart(one).mark_text(
    text=TITLE, align="center", baseline="middle", font="Liberation Sans", fontSize=10,
    color="#222222").encode(x=alt.value(436), y=alt.value(-11)))
layers.append(alt.Chart(one).mark_text(
    text=UNIT, align="left", baseline="middle", font="Liberation Sans", fontWeight="bold",
    fontSize=9.5, color="#111111").encode(x=alt.value(-37), y=alt.value(-11)))

chart = alt.layer(*layers).properties(
    width=W, height=H,
    autosize=alt.AutoSizeParams(type="none"),
    padding={"left": 37, "top": 17, "right": 1, "bottom": 26},
    background="white",
).configure_view(strokeWidth=0)

chart.save("out.html", embed_options={"renderer": "svg", "actions": False})
